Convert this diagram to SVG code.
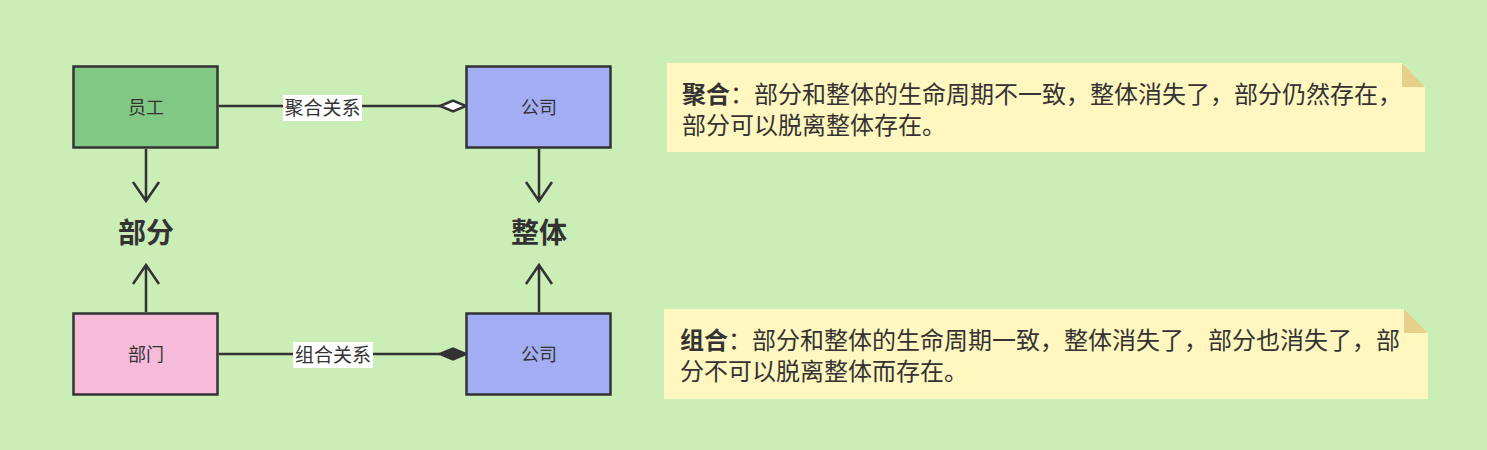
<svg xmlns="http://www.w3.org/2000/svg" width="1487" height="450" viewBox="0 0 1487 450">
<style>
.box{stroke:#333;stroke-width:2.5}
.lbl{font-family:"Noto Sans CJK SC","Liberation Sans",sans-serif;font-size:18px;fill:#333;text-anchor:middle}
.big{font-family:"Noto Sans CJK SC","Liberation Sans",sans-serif;font-size:28px;font-weight:bold;fill:#333;text-anchor:middle}
.edge{stroke:#333;stroke-width:2.5;fill:none}
.elbl{font-family:"Noto Sans CJK SC","Liberation Sans",sans-serif;font-size:19px;fill:#333;text-anchor:middle}
.note{fill:#fff7bf}
.fold{fill:#e5cf8a}
.nt{font-family:"Noto Sans CJK SC","Liberation Sans",sans-serif;font-size:24px;fill:#333}
</style>
<rect width="1487" height="450" fill="#cbedb6"/>
<g id="connectors">
  <path class="edge" d="M219,106 H440"/>
  <path d="M440,106 L453,100.5 L466,106 L453,111.5 Z" fill="#fff" stroke="#333" stroke-width="2.5"/>
  <rect x="283" y="95" width="79" height="26" fill="#fff"/>
  <text class="elbl" x="322.5" y="115">聚合关系</text>
  <path class="edge" d="M219,354 H440"/>
  <path d="M440,354 L453,348.5 L466,354 L453,359.5 Z" fill="#333" stroke="#333" stroke-width="2.5"/>
  <rect x="293" y="342" width="80" height="26" fill="#fff"/>
  <text class="elbl" x="333" y="362">组合关系</text>
  <path class="edge" d="M146,149 V201 M133,182 L146,201 L159,182"/>
  <path class="edge" d="M539,149 V201 M526,182 L539,201 L552,182"/>
  <path class="edge" d="M146,312 V265 M133,284 L146,265 L159,284"/>
  <path class="edge" d="M539,312 V265 M526,284 L539,265 L552,284"/>
</g>
<g id="yuangong">
  <rect class="box" x="73.5" y="66.5" width="144" height="81" fill="#80c884"/>
  <text class="lbl" x="146" y="114">员工</text>
</g>
<g id="gongsi1">
  <rect class="box" x="466.5" y="66.5" width="144" height="81" fill="#a3adf3"/>
  <text class="lbl" x="539" y="114">公司</text>
</g>
<g id="bumen">
  <rect class="box" x="73.5" y="313.5" width="144" height="81" fill="#f5bbd9"/>
  <text class="lbl" x="146" y="361">部门</text>
</g>
<g id="gongsi2">
  <rect class="box" x="466.5" y="313.5" width="144" height="81" fill="#a3adf3"/>
  <text class="lbl" x="539" y="361">公司</text>
</g>
<g id="bufen">
  <text class="big" x="146" y="243">部分</text>
</g>
<g id="zhengti">
  <text class="big" x="539" y="243">整体</text>
</g>
<g id="note1">
  <path class="note" d="M667,63 H1402 L1425,87 V152 H667 Z"/>
  <path class="fold" d="M1402,63 L1425,87 H1402 Z"/>
  <text class="nt" x="682" y="103"><tspan font-weight="bold">聚合</tspan><tspan>：部分和整体的生命周期不一致，整体消失了，部分仍然存在，</tspan><tspan x="682" dy="31">部分可以脱离整体存在。</tspan></text>
</g>
<g id="note2">
  <path class="note" d="M664,309 H1404 L1428,333 V399 H664 Z"/>
  <path class="fold" d="M1404,309 L1428,333 H1404 Z"/>
  <text class="nt" x="680" y="349"><tspan font-weight="bold">组合</tspan><tspan>：部分和整体的生命周期一致，整体消失了，部分也消失了，部</tspan><tspan x="680" dy="31">分不可以脱离整体而存在。</tspan></text>
</g>
</svg>
